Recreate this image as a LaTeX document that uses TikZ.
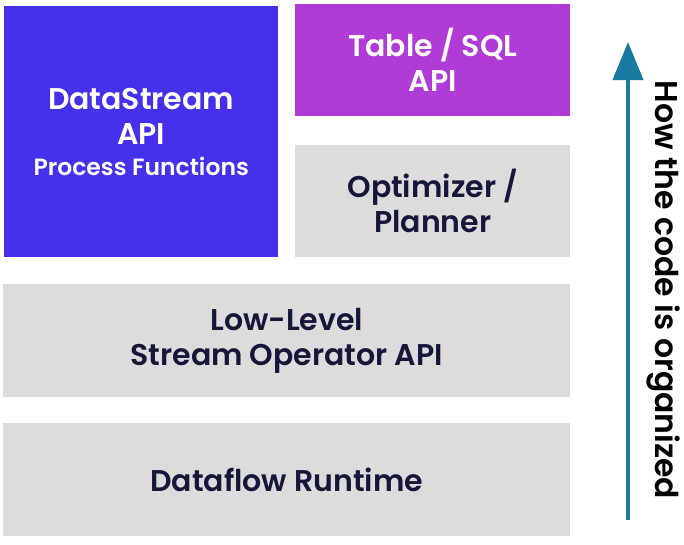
\documentclass[tikz,border=0pt]{standalone}
\usepackage{fontspec}
\setmainfont{Poppins}[UprightFont=*-Medium, BoldFont=*-SemiBold]
\usetikzlibrary{arrows.meta}
\definecolor{dsblue}{HTML}{4530EC}
\definecolor{sqlpurple}{HTML}{B03BD6}
\definecolor{layergray}{HTML}{DCDCDC}
\definecolor{inkdark}{HTML}{16163A}
\definecolor{arrowteal}{HTML}{177A9E}
\begin{document}
\begin{tikzpicture}[x=1pt, y=-1pt,
        every node/.style = {align=center, inner sep=0pt},
        layer/.style = {fill=layergray, anchor=north west, text=inkdark,
            font=\fontsize{30}{35}\selectfont\bfseries},
        apibox/.style = {anchor=north west, text=white,
            font=\fontsize{30}{35}\selectfont\bfseries}]
    \useasboundingbox (0,0) rectangle (684,544);
    % upper blocks
    \node[apibox, fill=dsblue, minimum width=274pt, minimum height=251pt] (datastream) at (4,6)
        {DataStream\\API\\[-4pt]{\fontsize{23.5}{28}\selectfont Process Functions}};
    \node[apibox, fill=sqlpurple, minimum width=275pt, minimum height=112pt] (tablesql) at (295,4)
        {Table / SQL\\API};
    \node[layer, minimum width=275pt, minimum height=112pt] (optimizer) at (295,145)
        {Optimizer /\\Planner};
    % lower layers
    \node[layer, minimum width=567pt, minimum height=113pt] (lowlevel) at (3,284)
        {Low-Level\\Stream Operator API};
    \node[layer, minimum width=567pt, minimum height=113pt] (runtime) at (3,423)
        {Dataflow Runtime};
    % direction arrow
    \coordinate (arrowfoot) at (628,520);
    \coordinate (arrowtip) at (628,42);
    \draw[arrowteal, line width=4pt, -{Triangle[width=30pt, length=38pt]}] (arrowfoot) -- (arrowtip);
    \node[rotate=-90, text=black, font=\fontsize{31.5}{36}\selectfont\bfseries] (howlabel) at (664,290)
        {How the code is organized};
\end{tikzpicture}
\end{document}
